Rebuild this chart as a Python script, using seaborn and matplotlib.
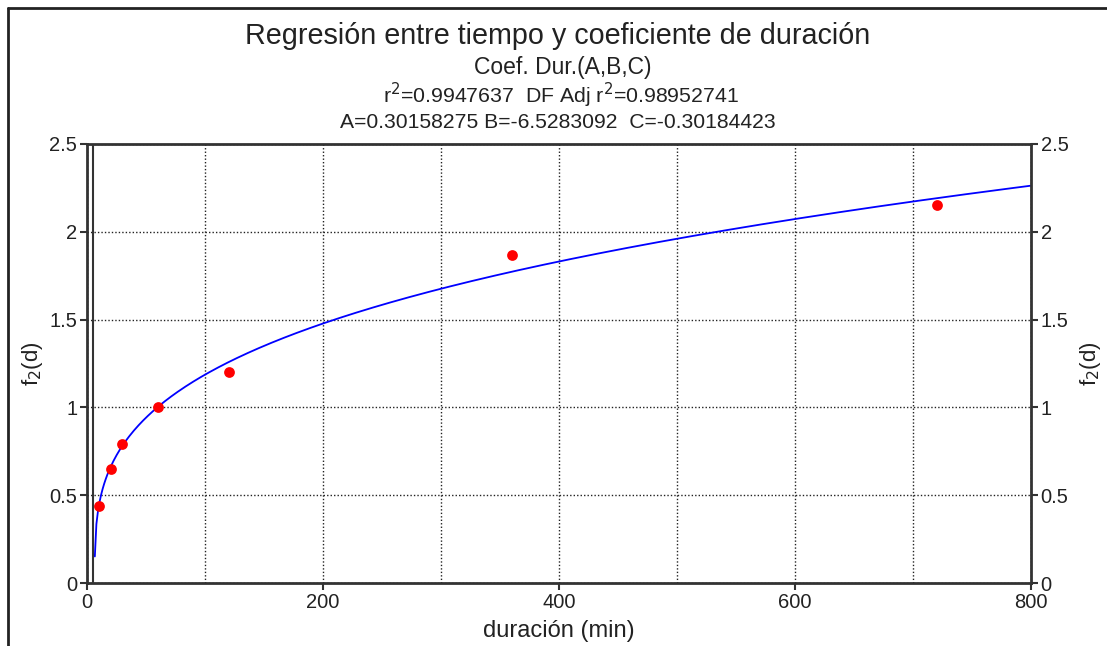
import numpy as np
import matplotlib
matplotlib.use("Agg")
import matplotlib.pyplot as plt
import seaborn as sns
from matplotlib.lines import Line2D

# Data
duracion = [10, 20, 30, 60, 120, 360, 720]
f2 = [0.44, 0.65, 0.79, 1.0, 1.2, 1.87, 2.15]

# Regression coefficients printed on the chart
A = 0.30158275
B = -6.5283092
C = -0.30184423
r2 = "0.9947637"
adj_r2 = "0.98952741"

x_ticks = [0, 200, 400, 600, 800]
y_ticks = [0, 0.5, 1, 1.5, 2, 2.5]
y_tick_labels = ["0", "0.5", "1", "1.5", "2", "2.5"]

sns.set_theme(style="white")
plt.rcParams['font.family'] = ['Liberation Sans', 'DejaVu Sans']

fig = plt.figure(figsize=(11.07, 6.46), dpi=100)
ax = fig.add_axes([0.0786, 0.0975, 0.8527, 0.6796])

# fitted curve from the printed coefficients
t_curve = np.linspace(6.63, 800, 600)
y_curve = A * (t_curve + B) ** (-C)
sns.lineplot(x=t_curve, y=y_curve, ax=ax, color="#0000ff", linewidth=1.3, sort=False)
sns.scatterplot(x=duracion, y=f2, ax=ax, color="#ff0000", s=60, edgecolor="#ff0000",
                linewidth=0, zorder=5)

ax.set_xlim(0, 800)
ax.set_ylim(0, 2.5)
ax.set_xticks(x_ticks)
ax.set_xticks(np.arange(0, 801, 100), minor=True)
ax.set_yticks(y_ticks)
ax.set_yticklabels(y_tick_labels)
ax.grid(True, which="both", axis="x", color="#222222", linestyle=(0, (1, 1.5)), linewidth=1.0)
ax.grid(True, which="major", axis="y", color="#222222", linestyle=(0, (1, 1.5)), linewidth=1.0)
ax.set_axisbelow(True)

for s in ax.spines.values():
    s.set_color("#333333")
    s.set_linewidth(2.0)
    s.set_visible(True)

ax.tick_params(axis="both", which="major", direction="out", length=5, width=1.5,
               color="#333333", labelsize=14.5, labelcolor="#222222", pad=3)
ax.tick_params(axis="x", which="minor", direction="out", length=3, width=1.5, color="#333333")
ax.tick_params(axis="y", left=True, right=True, labelright=True, pad=2)
ax.tick_params(axis="x", bottom=True, pad=2)

# double line at left
ax.axvline(5.0, color="#333333", linewidth=1.5, zorder=6)

ax.set_xlabel("duración (min)", fontsize=17, color="#222222", labelpad=6)
ax.set_ylabel("f$_2$(d)", fontsize=16, color="#222222", labelpad=3)
ax.text(1.0635, 0.5, "f$_2$(d)", transform=ax.transAxes, rotation=90, fontsize=16,
        color="#222222", ha="center", va="center")

# Titles
fig.text(0.504, 0.944, "Regresión entre tiempo y coeficiente de duración", ha="center",
         va="center", fontsize=20.7, color="#222222")
fig.text(0.508, 0.896, "Coef. Dur.(A,B,C)", ha="center", va="center", fontsize=16.5,
         color="#222222")
fig.text(0.507, 0.853, f"r$^2$={r2}  DF Adj r$^2$={adj_r2}", ha="center", va="center",
         fontsize=15.3, color="#222222")
fig.text(0.504, 0.810, f"A={A:.8f} B={B:.7f}  C={C:.8f}", ha="center", va="center",
         fontsize=15.2, color="#222222")

# outer frame (top and left)
fig.add_artist(Line2D([8 / 1107, 8 / 1107], [0, 1 - 8 / 646], transform=fig.transFigure,
                      color="#222222", linewidth=2))
fig.add_artist(Line2D([8 / 1107, 1], [1 - 8 / 646, 1 - 8 / 646], transform=fig.transFigure,
                      color="#222222", linewidth=2))

fig.savefig("out.png", dpi=100)
